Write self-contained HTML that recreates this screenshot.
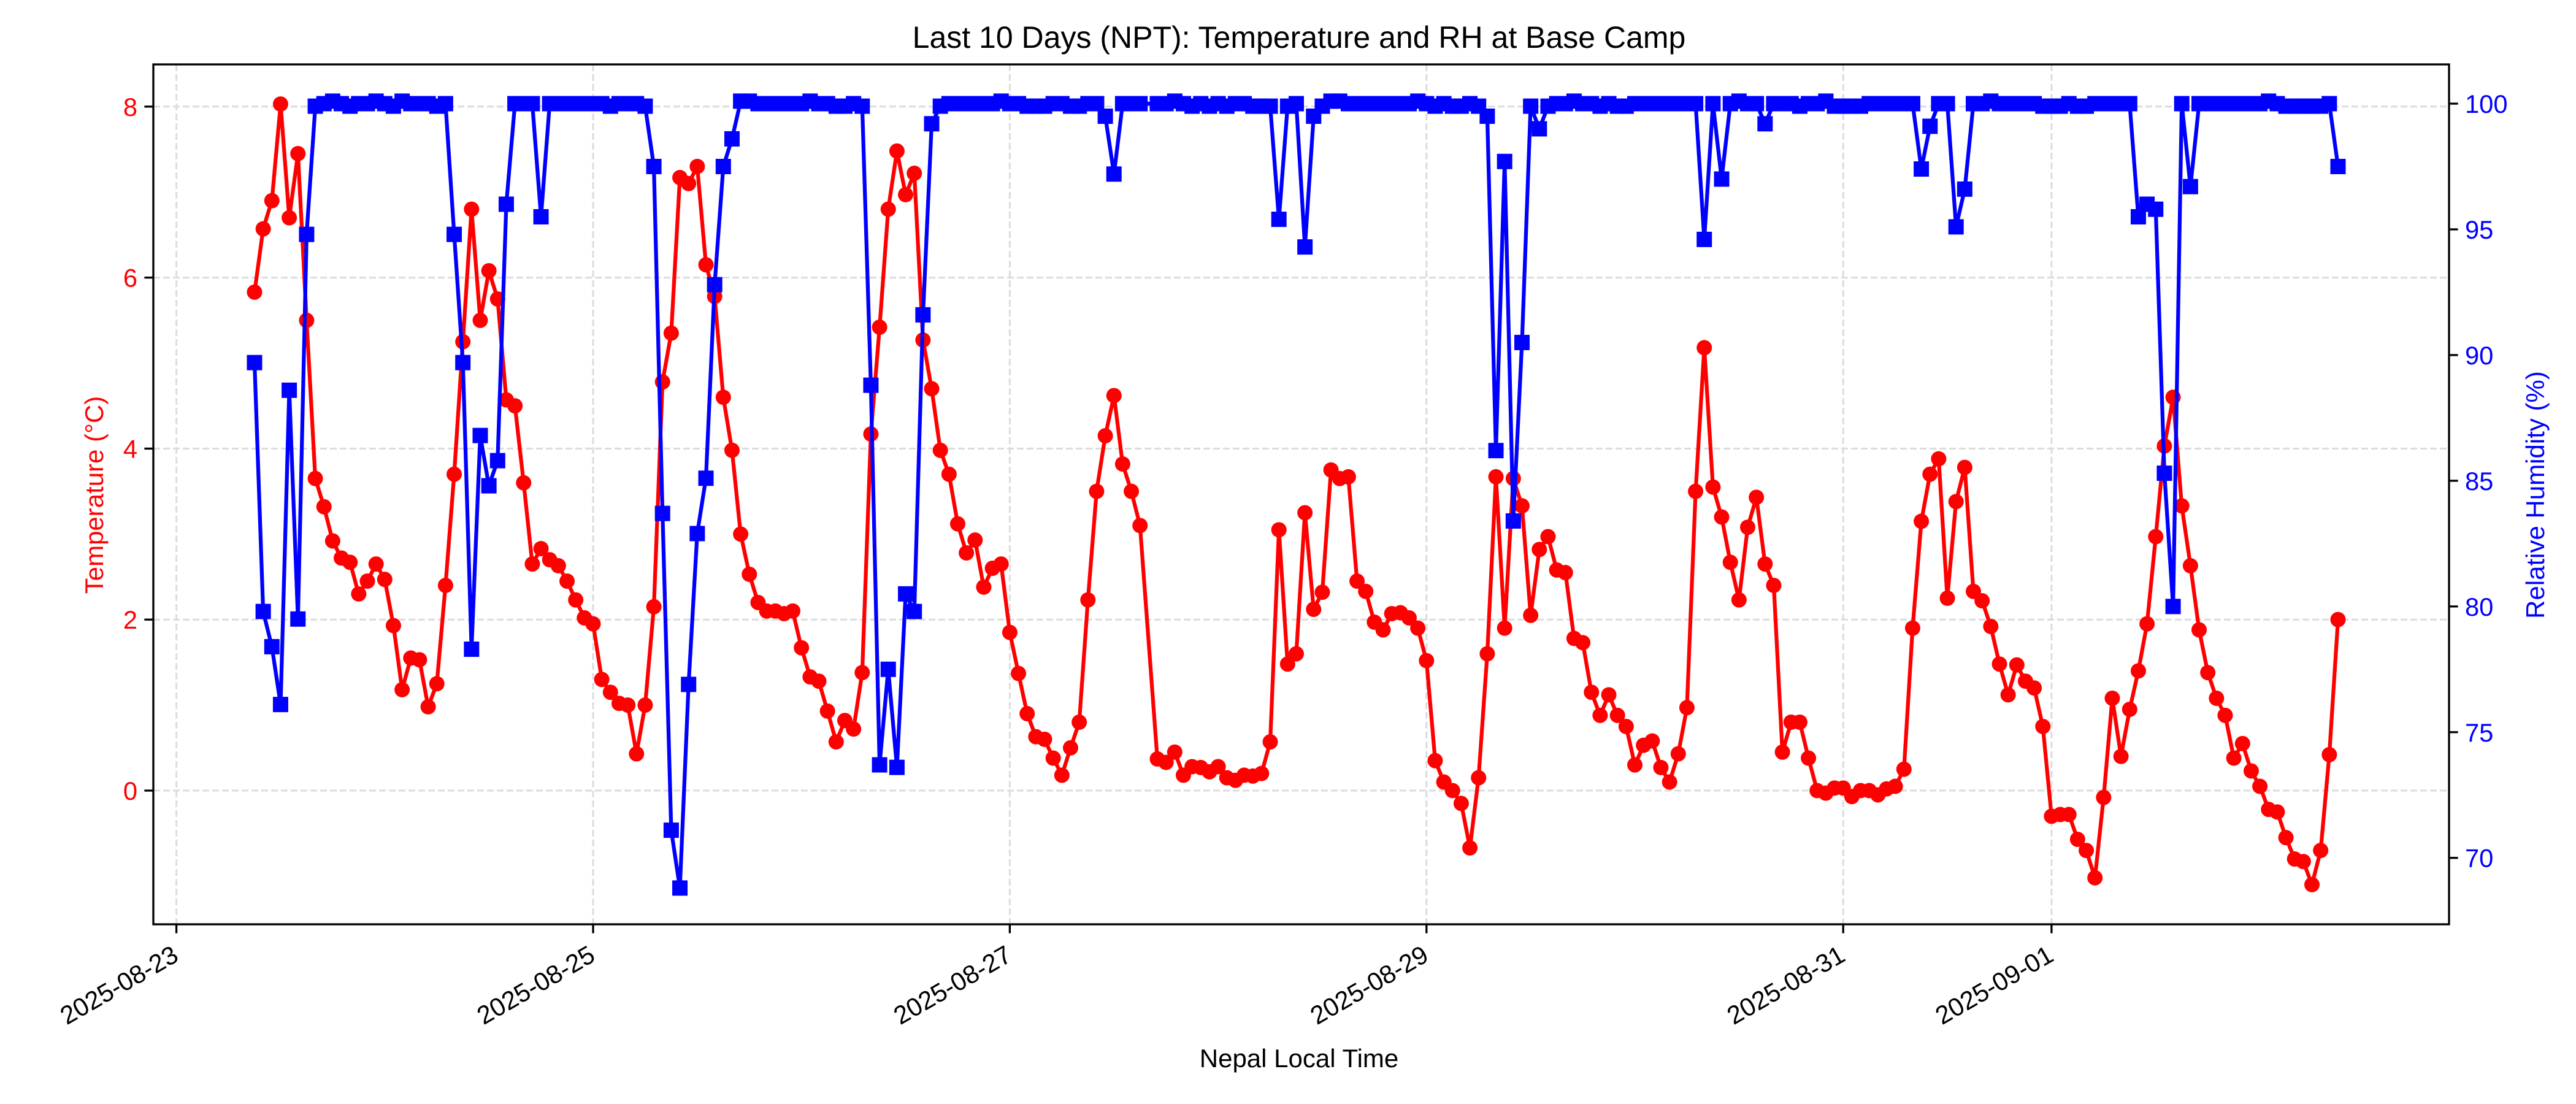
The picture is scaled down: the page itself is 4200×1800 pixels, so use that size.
<!DOCTYPE html>
<html><head><meta charset="utf-8">
<style>
html,body{margin:0;padding:0;background:#fff;}
svg{display:block;font-family:"Liberation Sans","DejaVu Sans",sans-serif;}
</style></head>
<body>
<svg id="chart" width="4200" height="1800" viewBox="0 0 4200 1800" xmlns="http://www.w3.org/2000/svg">
<rect x="0" y="0" width="4200" height="1800" fill="#fff"/>
<g id="grid"></g>
<g id="series"></g>
<g id="axes"></g>
<text x="2118" y="78" font-size="50" text-anchor="middle">Last 10 Days (NPT): Temperature and RH at Base Camp</text>
<text x="2118" y="1740" font-size="42" text-anchor="middle">Nepal Local Time</text>
<text transform="translate(168,807) rotate(-90)" font-size="42" text-anchor="middle" fill="#ff0000">Temperature (°C)</text>
<text transform="translate(4148,807) rotate(-90)" font-size="42" text-anchor="middle" fill="#0000ff">Relative Humidity (%)</text>
</svg>
<script>
// ---- data (hourly readings starting 2025-08-23 09:00 NPT) ----
const startHour = 9;
const dateTicks = ["2025-08-23","2025-08-25","2025-08-27","2025-08-29","2025-08-31","2025-09-01"];
const dateTickDays = [0,2,4,6,8,9];
const tempTicks = [0,2,4,6,8];
const rhTicks = [70,75,80,85,90,95,100];
const temperature = [
5.83,6.57,6.9,8.03,6.7,7.45,5.5,3.65,3.32,2.92,
2.72,2.67,2.3,2.45,2.65,2.47,1.93,1.18,1.55,1.53,
0.98,1.25,2.4,3.7,5.25,6.8,5.5,6.08,5.75,4.57,
4.5,3.6,2.65,2.83,2.7,2.63,2.45,2.23,2.02,1.95,
1.3,1.15,1.02,1.0,0.43,1.0,2.15,4.78,5.35,7.17,
7.1,7.3,6.15,5.78,4.6,3.98,3.0,2.53,2.2,2.1,
2.1,2.07,2.1,1.67,1.33,1.28,0.93,0.57,0.82,0.72,
1.38,4.17,5.42,6.8,7.48,6.97,7.22,5.27,4.7,3.98,
3.7,3.12,2.78,2.93,2.38,2.6,2.65,1.85,1.37,0.9,
0.63,0.6,0.38,0.18,0.5,0.8,2.23,3.5,4.15,4.62,
3.82,3.5,3.1,null,0.37,0.33,0.45,0.18,0.28,0.27,
0.22,0.28,0.15,0.12,0.18,0.17,0.2,0.57,3.05,1.48,
1.6,3.25,2.12,2.32,3.75,3.65,3.67,2.45,2.33,1.97,
1.88,2.07,2.08,2.02,1.9,1.52,0.35,0.1,0.0,-0.15,
-0.67,0.15,1.6,3.67,1.9,3.65,3.33,2.05,2.82,2.97,
2.58,2.55,1.78,1.73,1.15,0.88,1.12,0.88,0.75,0.3,
0.53,0.58,0.27,0.1,0.43,0.97,3.5,5.18,3.55,3.2,
2.67,2.23,3.08,3.43,2.65,2.4,0.45,0.8,0.8,0.38,
0.0,-0.03,0.03,0.03,-0.07,0.0,0.0,-0.05,0.02,0.05,
0.25,1.9,3.15,3.7,3.88,2.25,3.38,3.78,2.33,2.22,
1.92,1.48,1.12,1.47,1.28,1.2,0.75,-0.3,-0.28,-0.28,
-0.57,-0.7,-1.02,-0.08,1.08,0.4,0.95,1.4,1.95,2.97,
4.03,4.6,3.33,2.63,1.88,1.38,1.08,0.88,0.38,0.55,
0.23,0.05,-0.22,-0.25,-0.55,-0.8,-0.83,-1.1,-0.7,0.42,
2.0
];
const humidity = [
89.7,79.8,78.4,76.1,88.6,79.5,94.8,99.9,100,100.1,
100,99.9,100,100,100.1,100,99.9,100.1,100,100,
100,99.9,100,94.8,89.7,78.3,86.8,84.8,85.8,96,
100,100,100,95.5,100,100,100,100,100,100,
100,99.9,100,100,100,99.9,97.5,83.7,71.1,68.8,
76.9,82.9,85.1,92.8,97.5,98.6,100.1,100.1,100,100,
100,100,100,100,100.1,100,100,99.9,99.9,100,
99.9,88.8,73.7,77.5,73.6,80.5,79.8,91.6,99.2,99.9,
100,100,100,100,100,100,100.1,100,100,99.9,
99.9,99.9,100,100,99.9,99.9,100,100,99.5,97.2,
100,100,100,null,100,100,100.1,100,99.9,100,
99.9,100,99.9,100,100,99.9,99.9,99.9,95.4,99.9,
100,94.3,99.5,99.9,100.1,100.1,100,100,100,100,
100,100,100,100,100.1,100,99.9,100,99.9,99.9,
100,99.9,99.5,86.2,97.7,83.4,90.5,99.9,99,99.9,
100,100,100.1,100,100,99.9,100,99.9,99.9,100,
100,100,100,100,100,100,100,94.6,100,97.0,
100,100.1,100,100,99.2,100,100,100,99.9,100,
100,100.1,99.9,99.9,99.9,99.9,100,100,100,100,
100,100,97.4,99.1,100,100,95.1,96.6,100,100,
100.1,100,100,100,100,100,99.9,99.9,99.9,100,
99.9,99.9,100,100,100,100,100,95.5,96.0,95.8,
85.3,80.0,100,96.7,100,100,100,100,100,100,
100,100,100.1,100,99.9,99.9,99.9,99.9,99.9,100,
97.5
];
// ---- axes geometry ----
const L=250, R=3993, T=105, B=1507;
const dayPx=339.7, day0=287.6;
function xOfHour(h){return day0 + h/24*dayPx;}
function xOfDay(d){return day0 + d*dayPx;}
const yT0=1289, yTpx=139.4;
function yTemp(v){return yT0 - v*yTpx;}
const yR100=169, yRpx=40.99;
function yRH(v){return yR100 + (100-v)*yRpx;}
const NS="http://www.w3.org/2000/svg";
function mk(tag,attrs,parent){const e=document.createElementNS(NS,tag);for(const k in attrs)e.setAttribute(k,attrs[k]);parent.appendChild(e);return e;}
const grid=document.getElementById('grid'), series=document.getElementById('series'), axes=document.getElementById('axes');
// grid
dateTickDays.forEach((d,i)=>{
  const g=mk('line',{x1:xOfDay(d),x2:xOfDay(d),y1:T,y2:B,stroke:'#dcdcdc','stroke-width':3,'stroke-dasharray':'11,5'},grid);
  
  
});
tempTicks.forEach(v=>{
  const g=mk('line',{x1:L,x2:R,y1:yTemp(v),y2:yTemp(v),stroke:'#dcdcdc','stroke-width':3,'stroke-dasharray':'11,5'},grid);
  
  
});
// series
function drawSeries(vals,yf,color,shape,name){
  let d='',pen=false;
  vals.forEach((v,i)=>{ if(v===null)return; const x=xOfHour(startHour+i),y=yf(v); d+=(pen?'L':'M')+x.toFixed(1)+','+y.toFixed(1); pen=true;});
  const p=mk('path',{d:d,fill:'none',stroke:color,'stroke-width':6.25,'stroke-linejoin':'round'},series);
  
  
  vals.forEach((v,i)=>{
    if(v===null)return;
    const x=xOfHour(startHour+i),y=yf(v);
    let m;
    if(shape==='circle') m=mk('circle',{cx:x,cy:y,r:12.5,fill:color},series);
    else m=mk('rect',{x:x-12.5,y:y-12.5,width:25,height:25,fill:color},series);
    
    
  });
}
drawSeries(temperature,yTemp,'#ff0000','circle','temperature');
drawSeries(humidity,yRH,'#0000ff','square','humidity');
// frame
const fr=mk('rect',{x:L,y:T,width:R-L,height:B-T,fill:'none',stroke:'#000','stroke-width':3.3},axes);


// x ticks
dateTickDays.forEach((d,i)=>{
  const x=xOfDay(d);
  const t=mk('line',{x1:x,x2:x,y1:B,y2:B+14.6,stroke:'#000','stroke-width':3.3},axes);
  
  
  const lb=mk('text',{x:0,y:0,'font-size':41.7,'text-anchor':'end',transform:'translate('+(x+6)+','+(B+58)+') rotate(-30)'},axes);
  lb.textContent=dateTicks[i];
  
  
});
// left ticks
tempTicks.forEach(v=>{
  const y=yTemp(v);
  const t=mk('line',{x1:L-14.6,x2:L,y1:y,y2:y,stroke:'#000','stroke-width':3.3},axes);
  
  
  const lb=mk('text',{x:L-26,y:y+15,'font-size':41.7,'text-anchor':'end',fill:'#ff0000'},axes);
  lb.textContent=String(v);
  
  
});
// right ticks
rhTicks.forEach(v=>{
  const y=yRH(v);
  const t=mk('line',{x1:R,x2:R+14.6,y1:y,y2:y,stroke:'#000','stroke-width':3.3},axes);
  
  
  const lb=mk('text',{x:R+26,y:y+15,'font-size':41.7,'text-anchor':'start',fill:'#0000ff'},axes);
  lb.textContent=String(v);
  
  
});
</script>
</body></html>
